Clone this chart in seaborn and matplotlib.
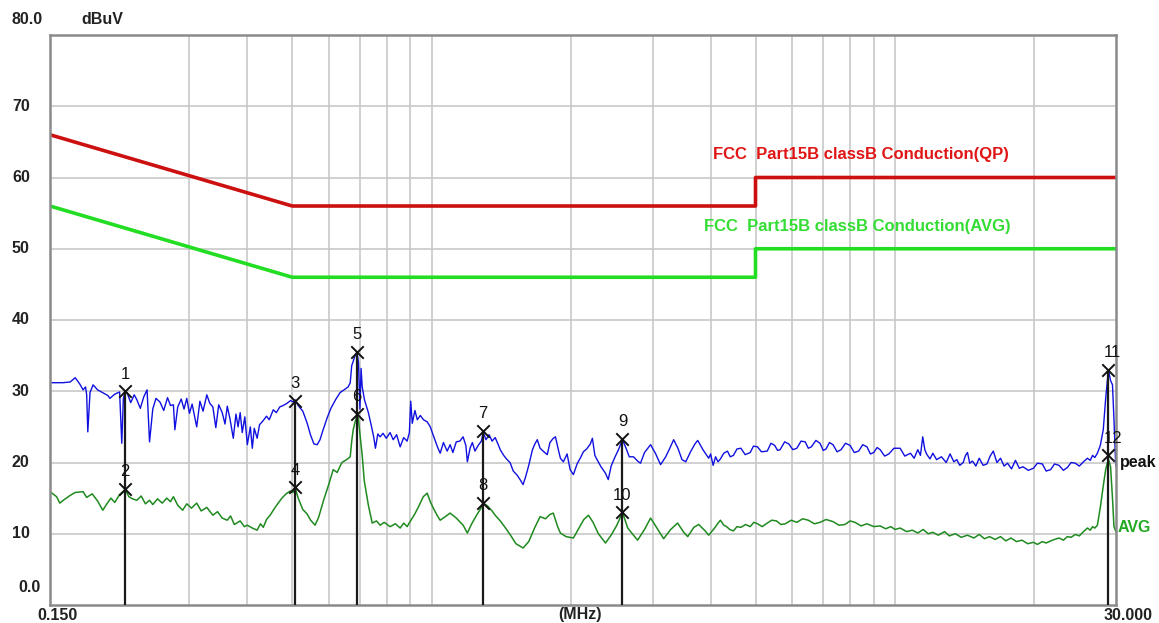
import numpy as np
import pandas as pd
import seaborn as sns
import matplotlib.pyplot as plt

# limit lines (FCC Part15B class B conducted)
qp_freq = [0.15, 0.5, 5.0, 5.0, 30.0]
qp_level = [66.0, 56.0, 56.0, 60.0, 60.0]
avg_lim_freq = [0.15, 0.5, 5.0, 5.0, 30.0]
avg_lim_level = [56.0, 46.0, 46.0, 50.0, 50.0]

# peak detector trace (MHz, dBuV)
peak_freq = [
    0.150, 0.155, 0.160, 0.1658, 0.170, 0.174, 0.1768, 0.179, 0.180, 0.181,
    0.183, 0.1858, 0.190, 0.195, 0.200, 0.202, 0.207, 0.212, 0.2143, 0.216,
    0.218, 0.220, 0.224, 0.228, 0.231, 0.235, 0.239, 0.243, 0.246, 0.250,
    0.254, 0.259, 0.264, 0.269, 0.273, 0.277, 0.279, 0.283, 0.288, 0.292,
    0.296, 0.300, 0.304, 0.311, 0.316, 0.321, 0.327, 0.332, 0.337, 0.342,
    0.347, 0.353, 0.358, 0.362, 0.367, 0.373, 0.378, 0.382, 0.386, 0.390,
    0.395, 0.400, 0.406, 0.410, 0.414, 0.420, 0.425, 0.433, 0.440, 0.446,
    0.455, 0.462, 0.470, 0.478, 0.487, 0.496, 0.502, 0.507, 0.515, 0.527,
    0.538, 0.548, 0.557, 0.566, 0.574, 0.583, 0.595, 0.606, 0.620, 0.634,
    0.650, 0.660, 0.667, 0.672, 0.677, 0.684, 0.690, 0.695, 0.700, 0.704,
    0.708, 0.716, 0.730, 0.740, 0.750, 0.756, 0.765, 0.774, 0.785, 0.798,
    0.813, 0.826, 0.840, 0.855, 0.870, 0.885, 0.895, 0.901, 0.908, 0.920,
    0.931, 0.945, 0.960, 0.978, 0.993, 1.008, 1.029, 1.043, 1.060, 1.080,
    1.096, 1.111, 1.130, 1.150, 1.169, 1.185, 1.194, 1.210, 1.224, 1.240,
    1.260, 1.280, 1.292, 1.310, 1.330, 1.350, 1.371, 1.390, 1.406, 1.430,
    1.455, 1.476, 1.500, 1.530, 1.555, 1.575, 1.595, 1.620, 1.650, 1.670,
    1.690, 1.714, 1.740, 1.776, 1.800, 1.830, 1.850, 1.875, 1.896, 1.924,
    1.960, 1.990, 2.022, 2.060, 2.100, 2.125, 2.160, 2.200, 2.223, 2.250,
    2.275, 2.320, 2.372, 2.405, 2.440, 2.480, 2.530, 2.581, 2.620, 2.670,
    2.726, 2.783, 2.823, 2.880, 2.968, 3.040, 3.119, 3.200, 3.260, 3.329,
    3.400, 3.470, 3.535, 3.620, 3.700, 3.751, 3.850, 3.962, 4.00, 4.05,
    4.10, 4.15, 4.20, 4.27, 4.35, 4.41, 4.48, 4.56, 4.65, 4.75,
    4.87, 4.95, 5.05, 5.15, 5.30, 5.40, 5.50, 5.58, 5.65, 5.78,
    5.90, 6.02, 6.14, 6.27, 6.40, 6.50, 6.60, 6.75, 6.89, 7.00,
    7.10, 7.22, 7.35, 7.50, 7.65, 7.82, 8.00, 8.17, 8.35, 8.52,
    8.70, 8.85, 9.00, 9.15, 9.29, 9.50, 9.70, 9.95, 10.26, 10.5,
    10.8, 11.0, 11.2, 11.35, 11.48, 11.6, 11.7, 11.9, 12.07, 12.3,
    12.6, 12.9, 13.15, 13.4, 13.6, 13.8, 14.04, 14.2, 14.34, 14.5,
    14.7, 14.95, 15.2, 15.5, 15.8, 16.05, 16.3, 16.6, 16.90, 17.2,
    17.5, 17.85, 18.2, 18.55, 18.9, 19.4, 19.91, 20.3, 20.8, 21.2,
    21.68, 22.1, 22.6, 23.1, 23.56, 24.0, 24.5, 25.0, 25.52, 26.03,
    26.4, 26.7, 27.0, 27.35, 27.75, 28.16, 28.5, 28.89, 29.2, 29.48,
    29.7, 29.94, 30.0,
]
peak_level = [
    31.2, 31.2, 31.2, 31.3, 31.9, 31.0, 30.2, 30.6, 29.5, 24.3,
    29.8, 30.9, 30.2, 29.8, 29.4, 29.0, 29.6, 29.9, 22.7, 29.0,
    30.0, 29.8, 28.4, 29.5, 28.8, 27.6, 29.2, 30.2, 22.9, 27.5,
    29.0, 28.5, 27.3, 29.1, 28.0, 28.1, 24.6, 27.8, 28.9, 27.5,
    29.0, 26.9, 28.2, 25.0, 28.6, 27.2, 29.5, 28.3, 27.8, 24.9,
    28.1, 27.0, 25.4, 27.9, 26.1, 23.4, 26.8, 25.0, 27.0, 24.2,
    26.4, 22.5, 25.0, 22.0, 24.8, 23.4, 25.3, 25.9, 26.5, 26.0,
    27.4, 27.0, 27.8, 28.0, 28.3, 28.7, 28.5, 28.8, 28.0, 27.2,
    25.6, 23.8, 22.6, 22.5, 23.2, 24.6, 26.3, 27.6, 28.8, 29.8,
    30.3, 30.6, 31.2, 33.6, 34.2, 35.1, 35.5, 34.0, 27.5, 33.2,
    30.6, 28.8, 27.0, 25.3, 23.5, 22.0, 24.0, 23.6, 24.1, 23.4,
    24.2, 23.2, 23.9, 22.2, 23.5, 23.0, 24.2, 28.6, 25.5, 27.3,
    26.0, 26.6, 26.0, 25.7, 25.0, 23.8, 22.2, 21.3, 22.8, 21.6,
    22.5, 21.4, 22.9, 23.0, 23.6, 22.4, 20.1, 22.0, 22.8, 21.6,
    22.4, 23.0, 24.2, 23.2, 23.9, 23.0, 23.5, 22.6, 21.8, 21.0,
    20.4, 20.0, 18.8, 18.2, 17.5, 16.9, 18.0, 19.6, 21.8, 22.6,
    23.2, 22.0, 21.6, 21.1, 22.8, 23.4, 23.6, 21.9, 20.6, 20.1,
    21.2, 19.0, 18.3, 19.8, 20.8, 21.5, 21.9, 22.6, 23.4, 21.0,
    20.4, 19.4, 18.5, 17.6, 19.5, 20.6, 21.8, 23.2, 22.2, 20.8,
    20.8, 20.2, 19.9, 21.4, 22.5, 21.3, 19.7, 20.8, 21.9, 23.2,
    22.0, 20.4, 20.1, 21.5, 22.6, 23.1, 21.8, 20.6, 21.2, 19.6,
    20.8, 20.1, 20.5, 21.3, 21.6, 20.8, 21.0, 21.9, 22.0, 21.1,
    21.4, 22.3, 22.2, 21.5, 21.6, 22.7, 22.4, 21.7, 21.8, 22.9,
    22.6, 21.8, 22.0, 23.0, 22.9, 22.0, 22.2, 23.1, 22.7, 21.7,
    21.9, 22.8, 22.5, 21.5, 21.8, 22.7, 22.4, 21.4, 21.6, 22.5,
    22.2, 21.2, 21.4, 22.1, 21.8, 20.9, 21.2, 22.0, 22.0, 20.9,
    21.3, 20.6, 21.8, 21.0, 23.6, 21.8, 21.2, 20.5, 21.3, 20.4,
    20.8, 20.0, 21.2, 20.1, 20.4, 19.6, 20.0, 21.0, 21.4, 19.9,
    20.2, 19.5, 20.6, 19.6, 19.8, 20.9, 21.6, 20.0, 20.6, 19.5,
    19.9, 19.1, 20.3, 19.2, 19.4, 18.9, 19.2, 19.9, 19.8, 18.8,
    19.0, 19.8, 19.6, 18.9, 19.3, 20.0, 19.9, 19.5, 20.1, 20.6,
    20.3, 21.0, 20.7, 21.3, 22.4, 24.6, 29.0, 33.0, 31.5, 30.9,
    26.0, 20.0, 19.5,
]

# average detector trace (MHz, dBuV)
avg_freq = [
    0.150, 0.155, 0.1575, 0.161, 0.166, 0.170, 0.1768, 0.180, 0.185, 0.190,
    0.195, 0.199, 0.203, 0.207, 0.212, 0.218, 0.222, 0.226, 0.231, 0.236,
    0.241, 0.246, 0.250, 0.256, 0.262, 0.268, 0.273, 0.277, 0.283, 0.290,
    0.296, 0.303, 0.311, 0.318, 0.327, 0.337, 0.345, 0.353, 0.362, 0.368,
    0.375, 0.386, 0.394, 0.400, 0.410, 0.420, 0.427, 0.433, 0.440, 0.448,
    0.455, 0.465, 0.475, 0.485, 0.495, 0.502, 0.507, 0.515, 0.527, 0.538,
    0.548, 0.560, 0.570, 0.585, 0.600, 0.613, 0.625, 0.640, 0.655, 0.667,
    0.672, 0.677, 0.684, 0.690, 0.694, 0.700, 0.708, 0.715, 0.730, 0.744,
    0.760, 0.774, 0.790, 0.813, 0.835, 0.855, 0.870, 0.885, 0.900, 0.920,
    0.940, 0.959, 0.978, 0.993, 1.008, 1.029, 1.043, 1.070, 1.096, 1.130,
    1.169, 1.194, 1.220, 1.250, 1.275, 1.292, 1.320, 1.350, 1.371, 1.406,
    1.440, 1.476, 1.520, 1.575, 1.620, 1.670, 1.714, 1.760, 1.800, 1.830,
    1.870, 1.896, 1.950, 2.022, 2.080, 2.130, 2.180, 2.230, 2.290, 2.372,
    2.440, 2.510, 2.581, 2.650, 2.726, 2.783, 2.880, 2.968, 3.050, 3.167,
    3.280, 3.395, 3.500, 3.570, 3.680, 3.770, 3.880, 3.962, 4.08, 4.14,
    4.20, 4.27, 4.33, 4.40, 4.48, 4.56, 4.65, 4.76, 4.87, 4.96,
    5.05, 5.17, 5.30, 5.42, 5.55, 5.67, 5.80, 5.97, 6.14, 6.32,
    6.50, 6.70, 6.89, 7.10, 7.35, 7.57, 7.80, 8.00, 8.20, 8.45,
    8.70, 9.00, 9.29, 9.55, 9.80, 10.0, 10.26, 10.6, 10.9, 11.2,
    11.5, 11.8, 12.07, 12.4, 12.8, 13.1, 13.5, 13.9, 14.34, 14.8,
    15.2, 15.6, 16.0, 16.45, 16.90, 17.35, 17.8, 18.3, 18.8, 19.35,
    19.91, 20.3, 20.8, 21.2, 21.68, 22.1, 22.6, 23.1, 23.56, 24.0,
    24.5, 25.0, 25.52, 26.03, 26.4, 26.7, 27.0, 27.35, 27.75, 28.2,
    28.5, 28.89, 29.2, 29.48, 29.7, 29.94, 30.0,
]
avg_level = [
    15.9, 15.2, 14.3, 14.8, 15.4, 15.8, 15.9, 15.1, 15.6, 14.6,
    13.3, 14.2, 15.0, 14.4, 15.5, 16.2, 15.2, 14.9, 14.7, 15.3,
    14.2, 14.7, 14.1, 14.9, 14.3, 15.0, 14.5, 15.2, 14.0, 13.3,
    14.2, 13.6, 14.3, 13.2, 13.7, 12.6, 13.1, 12.2, 11.9, 12.5,
    11.3, 11.8, 11.0, 11.2, 10.8, 10.5, 11.4, 10.9, 12.0, 12.6,
    13.3, 14.2, 15.0, 15.6, 16.0, 15.8, 16.5, 15.0, 13.4, 12.8,
    11.9, 11.2, 12.3, 14.8, 17.0, 19.0, 18.6, 20.0, 20.4, 20.8,
    23.0, 24.6, 25.8, 26.5, 26.3, 24.0, 21.0, 17.5, 14.0, 11.5,
    11.8, 11.2, 11.6, 11.0, 11.4, 10.8, 11.5, 11.0, 11.8, 12.8,
    14.0, 15.2, 15.7, 14.5, 13.6, 12.5, 11.9, 12.4, 12.9, 12.2,
    11.2, 10.1, 11.4, 12.6, 13.5, 14.3, 13.9, 13.2, 12.6, 11.8,
    10.9, 9.9, 8.6, 8.0, 8.9, 10.9, 12.4, 12.1, 12.7, 12.9,
    11.0, 10.1, 9.6, 9.4, 10.8, 12.0, 12.6, 11.6, 10.0, 8.7,
    9.8, 11.2, 13.0, 10.8, 9.8, 9.1, 10.6, 12.2, 11.0, 9.3,
    10.6, 11.5, 10.2, 9.6, 10.9, 11.3, 10.5, 9.8, 10.8, 11.4,
    11.9, 11.2, 11.0, 10.6, 10.4, 11.0, 10.9, 11.3, 11.0, 11.6,
    11.4, 11.0, 11.5, 11.9, 11.8, 11.3, 11.4, 11.9, 11.6, 12.1,
    11.9, 11.4, 11.6, 12.0, 11.7, 11.2, 11.3, 11.8, 11.6, 11.1,
    11.4, 11.0, 11.1, 10.7, 11.0, 10.6, 10.8, 10.3, 10.5, 10.1,
    10.6, 10.0, 10.2, 9.8, 10.3, 9.7, 10.0, 9.5, 9.8, 9.4,
    9.9, 9.3, 9.6, 9.2, 9.6, 9.0, 9.4, 8.9, 9.1, 8.6,
    8.8, 8.5, 8.9, 8.7, 9.0, 9.2, 9.4, 9.1, 9.6, 9.5,
    9.9, 9.7, 10.3, 10.8, 10.5, 11.0, 10.8, 11.2, 13.7, 17.0,
    19.0, 20.5, 19.4, 15.0, 11.0, 10.4, 10.2,
]

# marker table
marker_ids = ["1", "2", "3", "4", "5", "6", "7", "8", "9", "10", "11", "12"]
marker_freq = [0.218, 0.218, 0.507, 0.507, 0.690, 0.690, 1.292, 1.292, 2.581, 2.581, 28.89, 28.89]
marker_level = [30.0, 16.3, 28.7, 16.5, 35.5, 26.8, 24.4, 14.3, 23.3, 13.0, 33.0, 21.0]

grid_freqs = [0.3, 0.4, 0.5, 0.6, 0.7, 0.8, 0.9, 1, 2, 3, 4, 5, 6, 7, 8, 9, 10, 20]
grid_levels = [10, 20, 30, 40, 50, 60, 70]

W, H = 1159, 623

sns.set_style("white")
plt.rcParams['font.family'] = ['Liberation Sans', 'DejaVu Sans']

fig = plt.figure(figsize=(W / 100, H / 100), dpi=100)
ax = fig.add_axes([50 / W, 18 / H, 1066 / W, 570 / H])
ax.set_xscale("log")
ax.set_xlim(0.15, 30.0)
ax.set_ylim(0, 80)

for f in grid_freqs:
    ax.axvline(f, color="#c8c8c8", lw=1.2, zorder=0)
for lv in grid_levels:
    ax.axhline(lv, color="#c8c8c8", lw=1.2, zorder=0)

ax.set_xticks([])
ax.set_yticks([])
ax.minorticks_off()
for sp in ax.spines.values():
    sp.set_color("#8a8a8a")
    sp.set_linewidth(1.8)

qp = pd.DataFrame({"f": qp_freq, "v": qp_level})
al = pd.DataFrame({"f": avg_lim_freq, "v": avg_lim_level})
pk = pd.DataFrame({"f": peak_freq, "v": peak_level})
av = pd.DataFrame({"f": avg_freq, "v": avg_level})

sns.lineplot(data=qp, x="f", y="v", ax=ax, color="#cc1010", lw=2.6,
             estimator=None, sort=False)
sns.lineplot(data=al, x="f", y="v", ax=ax, color="#22dd22", lw=2.6,
             estimator=None, sort=False)
sns.lineplot(data=av, x="f", y="v", ax=ax, color="#1f8a1f", lw=1.1,
             estimator=None, sort=False)
sns.lineplot(data=pk, x="f", y="v", ax=ax, color="#1010e0", lw=1.0,
             estimator=None, sort=False)

# marker drop lines, from the upper marker of each pair to the bottom
for i in range(0, len(marker_freq), 2):
    ax.vlines(marker_freq[i], 0, marker_level[i], color="#1a1a1a", lw=1.6, zorder=4)

sns.scatterplot(x=marker_freq, y=marker_level, ax=ax, marker="x", color="#111111",
                s=80, linewidth=1.4, zorder=5)
for mid, f, lv in zip(marker_ids, marker_freq, marker_level):
    dx = 3 if mid in ("11", "12") else 0
    ax.annotate(mid, (f, lv), xytext=(dx, 7), textcoords="offset points",
                ha="center", va="bottom", fontsize=12, color="#111111", zorder=6)

ax.text(4.05, 62.2, "FCC  Part15B classB Conduction(QP)", color="#e01515",
        fontsize=12, fontweight="bold", va="bottom")
ax.text(3.87, 52.0, "FCC  Part15B classB Conduction(AVG)", color="#33dd33",
        fontsize=12, fontweight="bold", va="bottom")


def px_text(x, y, s, **kw):
    fig.text(x / W, 1 - y / H, s, va="center", fontweight="bold", fontsize=11.5, **kw)


px_text(11, 19, "80.0", ha="left", color="#222222")
px_text(81, 19, "dBuV", ha="left", color="#222222")
for lv in grid_levels:
    px_text(12, 605 - lv * 7.125, str(lv), ha="left", color="#222222")
px_text(18, 587, "0.0", ha="left", color="#222222")
px_text(57, 615, "0.150", ha="center", color="#222222")
px_text(580, 615, "(MHz)", ha="center", color="#222222")
px_text(1128, 615, "30.000", ha="center", color="#222222")
px_text(1120, 463, "peak", ha="left", color="#111111")
px_text(1118, 527, "AVG", ha="left", color="#22aa22")

fig.savefig("out.png", dpi=100)
